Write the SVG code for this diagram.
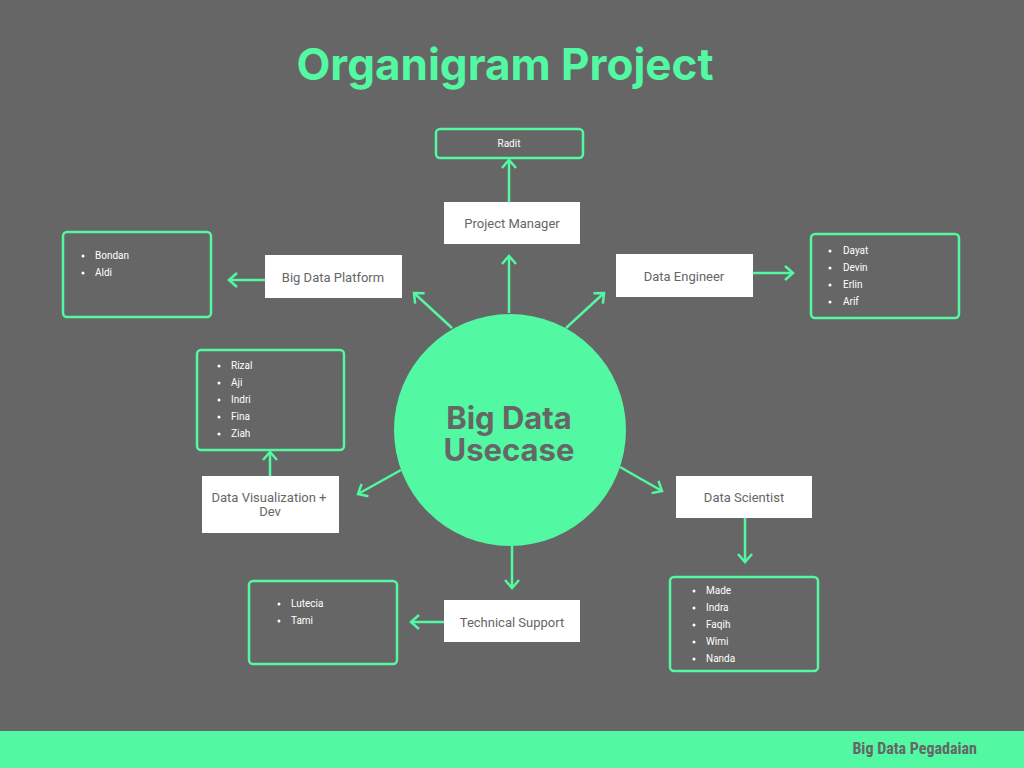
<svg xmlns="http://www.w3.org/2000/svg" width="1024" height="768" viewBox="0 0 1024 768">
<defs>
<marker id="arr" markerUnits="userSpaceOnUse" markerWidth="20" markerHeight="20" viewBox="-10 -10 20 20" refX="0" refY="0" orient="auto">
<path d="M-8,-7 L0,0 L-8,7" fill="none" stroke="#53f8a2" stroke-width="2.5"/>
</marker>
</defs>
<style>
.title{font-family:Inter,"Liberation Sans",sans-serif;font-weight:700;fill:#53f8a2}
.role rect{fill:#ffffff}
.role text{font-family:Roboto,"Liberation Sans",sans-serif;font-size:13px;fill:#666666;text-anchor:middle}
.list rect{fill:none;stroke:#53f8a2;stroke-width:2.5}
.list text{font-family:Roboto,"Liberation Sans",sans-serif;font-size:10px;fill:#ffffff}
.list circle{fill:#ffffff}
.conn line{stroke:#53f8a2;stroke-width:2.5;marker-end:url(#arr)}
</style>
<rect width="1024" height="768" fill="#666666"/>
<text class="title" x="505" y="80" font-size="44" text-anchor="middle">Organigram Project</text>

<g id="connectors" class="conn">
<line x1="509" y1="202" x2="509" y2="160"/>
<line x1="509" y1="313" x2="509" y2="256"/>
<line x1="452" y1="328" x2="414" y2="293"/>
<line x1="265" y1="280" x2="229" y2="280"/>
<line x1="566" y1="328" x2="604" y2="293"/>
<line x1="753" y1="273" x2="793" y2="273"/>
<line x1="401" y1="470" x2="358" y2="494"/>
<line x1="270" y1="476" x2="270" y2="452"/>
<line x1="620" y1="467" x2="662" y2="491"/>
<line x1="745" y1="518" x2="745" y2="562"/>
<line x1="512" y1="546" x2="512" y2="588"/>
<line x1="444" y1="622" x2="411" y2="622"/>
</g>

<g id="center">
<circle cx="510" cy="430" r="116" fill="#53f8a2"/>
<text class="title" x="509" y="429" font-size="31" text-anchor="middle" style="fill:#666666">Big Data</text>
<text class="title" x="509" y="461" font-size="31" text-anchor="middle" style="fill:#666666">Usecase</text>
</g>

<g id="radit" class="list">
<rect x="436" y="129" width="147" height="29" rx="4"/>
<text x="509" y="147" text-anchor="middle">Radit</text>
</g>
<g id="project-manager" class="role">
<rect x="444" y="202" width="136" height="42"/>
<text x="512" y="228">Project Manager</text>
</g>

<g id="big-data-platform" class="role">
<rect x="265" y="255" width="137" height="43"/>
<text x="333" y="282">Big Data Platform</text>
</g>
<g id="bdp-members" class="list">
<rect x="63" y="232" width="148" height="85" rx="4"/>
<circle cx="83" cy="256" r="1.5"/><text x="95" y="259">Bondan</text>
<circle cx="83" cy="273" r="1.5"/><text x="95" y="276">Aldi</text>
</g>

<g id="data-engineer" class="role">
<rect x="616" y="254" width="137" height="43"/>
<text x="684" y="281">Data Engineer</text>
</g>
<g id="de-members" class="list">
<rect x="811" y="234" width="148" height="84" rx="4"/>
<circle cx="830" cy="251" r="1.5"/><text x="843" y="254">Dayat</text>
<circle cx="830" cy="268" r="1.5"/><text x="843" y="271">Devin</text>
<circle cx="830" cy="285" r="1.5"/><text x="843" y="288">Erlin</text>
<circle cx="830" cy="302" r="1.5"/><text x="843" y="305">Arif</text>
</g>

<g id="data-viz" class="role">
<rect x="202" y="476" width="137" height="57"/>
<text x="269" y="502">Data Visualization +</text>
<text x="270" y="516">Dev</text>
</g>
<g id="dv-members" class="list">
<rect x="197" y="350" width="147" height="100" rx="4"/>
<circle cx="219" cy="366" r="1.5"/><text x="231" y="369">Rizal</text>
<circle cx="219" cy="383" r="1.5"/><text x="231" y="386">Aji</text>
<circle cx="219" cy="400" r="1.5"/><text x="231" y="403">Indri</text>
<circle cx="219" cy="417" r="1.5"/><text x="231" y="420">Fina</text>
<circle cx="219" cy="434" r="1.5"/><text x="231" y="437">Ziah</text>
</g>

<g id="data-scientist" class="role">
<rect x="676" y="476" width="136" height="42"/>
<text x="744" y="502">Data Scientist</text>
</g>
<g id="ds-members" class="list">
<rect x="670" y="577" width="148" height="94" rx="4"/>
<circle cx="694" cy="591" r="1.5"/><text x="706" y="594">Made</text>
<circle cx="694" cy="608" r="1.5"/><text x="706" y="611">Indra</text>
<circle cx="694" cy="625" r="1.5"/><text x="706" y="628">Faqih</text>
<circle cx="694" cy="642" r="1.5"/><text x="706" y="645">Wimi</text>
<circle cx="694" cy="659" r="1.5"/><text x="706" y="662">Nanda</text>
</g>

<g id="technical-support" class="role">
<rect x="444" y="600" width="136" height="42"/>
<text x="512" y="627">Technical Support</text>
</g>
<g id="ts-members" class="list">
<rect x="249" y="581" width="148" height="83" rx="4"/>
<circle cx="279" cy="604" r="1.5"/><text x="291" y="607">Lutecia</text>
<circle cx="279" cy="621" r="1.5"/><text x="291" y="624">Tami</text>
</g>

<g id="footer">
<rect x="0" y="731" width="1024" height="37" fill="#53f8a2"/>
<text x="977" y="754" text-anchor="end" font-family="'Liberation Sans Narrow','Roboto Condensed',Roboto,'Liberation Sans',sans-serif" font-weight="700" font-size="16" fill="#666666">Big Data Pegadaian</text>
</g>
</svg>
